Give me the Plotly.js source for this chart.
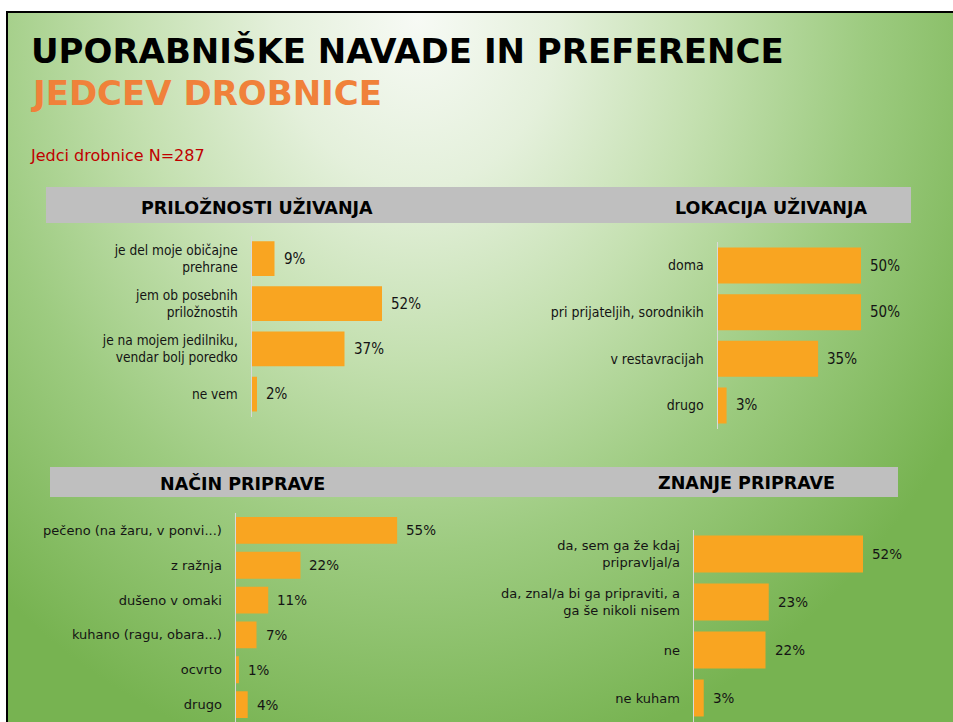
<!DOCTYPE html>
<html>
<head>
<meta charset="utf-8">
<script src="https://cdn.plot.ly/plotly-3.0.1.min.js"></script>
<style>
  html, body { margin:0; padding:0; background:#ffffff; overflow:hidden; }
  #wrap { position:relative; width:953px; height:722px; overflow:hidden; background:#ffffff; }
  #bg { position:absolute; left:6px; top:11px; width:1010px; height:760px; box-sizing:border-box;
        border-top:2.5px solid #000; border-left:2.4px solid #000;
        background: radial-gradient(ellipse 640px 760px at 410px 5px, #F7FAF5 0%, #E4F0DB 22%, #C4E0B0 45%, #9DCB80 70%, #77B351 100%); }
  #chart { position:absolute; left:0; top:0; width:953px; height:722px; }
</style>
</head>
<body>
<div id="wrap"><div id="bg"></div><div id="chart"></div></div>
<script>
// ---------- data ----------
const titleLine1 = 'UPORABNIŠKE NAVADE IN PREFERENCE';
const titleLine2 = 'JEDCEV DROBNICE';
const subtitle = 'Jedci drobnice N=287';

const p1Title = 'PRILOŽNOSTI UŽIVANJA';
const p1Cats = ['je del moje običajne<br>prehrane', 'jem ob posebnih<br>priložnostih', 'je na mojem jedilniku,<br>vendar bolj poredko', 'ne vem'];
const p1Vals = [9, 52, 37, 2];

const p2Title = 'LOKACIJA UŽIVANJA';
const p2Cats = ['doma', 'pri prijateljih, sorodnikih', 'v restavracijah', 'drugo'];
const p2Vals = [50, 50, 35, 3];

const p3Title = 'NAČIN PRIPRAVE';
const p3Cats = ['pečeno (na žaru, v ponvi...)', 'z ražnja', 'dušeno v omaki', 'kuhano (ragu, obara...)', 'ocvrto', 'drugo'];
const p3Vals = [55, 22, 11, 7, 1, 4];

const p4Title = 'ZNANJE PRIPRAVE';
const p4Cats = ['da, sem ga že kdaj<br>pripravljal/a', 'da, znal/a bi ga pripraviti, a<br>ga še nikoli nisem', 'ne', 'ne kuham'];
const p4Vals = [52, 23, 22, 3];

// ---------- layout helpers ----------
const W = 953, H = 722;
const px = (a, b) => [a / W, b / W];
const py = (top, bottom) => [Math.max(0, 1 - bottom / H), Math.min(1, 1 - top / H)];
const BAR = '#F9A521';
const narrow = 'DejaVu Sans Condensed, Liberation Sans Narrow, sans-serif';
const dejavu = 'DejaVu Sans, Verdana, sans-serif';

const panels = [
  {cats: p1Cats, vals: p1Vals, xd: px(252, 252 + 60 * 2.5), yd: py(236, 416.6), font: narrow, fs: 13.6, vfs: 15, ax: ''},
  {cats: p2Cats, vals: p2Vals, xd: px(718, 718 + 60 * 2.86), yd: py(242.2, 428.8), font: narrow, fs: 14, vfs: 15, ax: '2'},
  {cats: p3Cats, vals: p3Vals, xd: px(236, 236 + 60 * 2.93), yd: py(513, 722), font: dejavu, fs: 13, vfs: 13.5, ax: '3'},
  {cats: p4Cats, vals: p4Vals, xd: px(694, 694 + 60 * 3.25), yd: py(530, 722), font: dejavu, fs: 13, vfs: 13.5, ax: '4'}
];

const traces = [];
const layout = {
  width: W, height: H,
  margin: {l: 0, r: 0, t: 0, b: 0},
  paper_bgcolor: 'rgba(0,0,0,0)',
  plot_bgcolor: 'rgba(0,0,0,0)',
  showlegend: false,
  bargap: 0.23,
  annotations: [],
  shapes: []
};

panels.forEach(p => {
  traces.push({
    type: 'bar', orientation: 'h',
    x: p.vals, y: p.cats,
    xaxis: 'x' + p.ax, yaxis: 'y' + p.ax,
    marker: {color: BAR},
    hoverinfo: 'skip'
  });
  layout['xaxis' + p.ax] = {
    domain: p.xd, range: [0, 60], visible: false, fixedrange: true,
    anchor: 'y' + p.ax
  };
  layout['yaxis' + p.ax] = {
    domain: p.yd, type: 'category',
    range: [p.cats.length - 0.5, -0.5],
    anchor: 'x' + p.ax,
    showline: true, linecolor: '#D9D9D9', linewidth: 1.5,
    showgrid: false, zeroline: false, ticks: '',
    ticklabelstandoff: 10,
    tickfont: {family: p.font, size: p.fs, color: '#141414'},
    fixedrange: true
  };
  p.vals.forEach((v, i) => {
    layout.annotations.push({
      xref: 'x' + p.ax, yref: 'y' + p.ax,
      x: v, y: p.cats[i],
      text: v + '%', showarrow: false,
      xanchor: 'left', yanchor: 'middle', xshift: 7,
      font: {family: p.font, size: p.vfs, color: '#141414'}
    });
  });
});

// header bars
layout.shapes.push(
  {type: 'rect', xref: 'paper', yref: 'paper', x0: 46 / W, x1: 911 / W, y0: 1 - 223 / H, y1: 1 - 187 / H, fillcolor: '#BFBFBF', line: {width: 0}, layer: 'below'},
  {type: 'rect', xref: 'paper', yref: 'paper', x0: 50 / W, x1: 898 / W, y0: 1 - 497 / H, y1: 1 - 467 / H, fillcolor: '#BFBFBF', line: {width: 0}, layer: 'below'}
);

const headFont = {family: 'DejaVu Sans, Verdana, sans-serif', size: 17.5, color: '#000000'};
[[p1Title, 257, 207], [p2Title, 771, 207], [p3Title, 242, 483], [p4Title, 746.5, 483]].forEach(h => {
  layout.annotations.push({xref: 'paper', yref: 'paper', x: h[1] / W, y: 1 - h[2] / H,
    text: '<b>' + h[0] + '</b>', showarrow: false, xanchor: 'center', yanchor: 'middle', font: headFont});
});

layout.annotations.push(
  {xref: 'paper', yref: 'paper', x: 29 / W, y: 1 - 51 / H, text: '<b>' + titleLine1 + '</b>', showarrow: false,
   xanchor: 'left', yanchor: 'middle', font: {family: 'DejaVu Sans, Verdana, sans-serif', size: 34, color: '#000000'}},
  {xref: 'paper', yref: 'paper', x: 29 / W, y: 1 - 93 / H, text: '<b>' + titleLine2 + '</b>', showarrow: false,
   xanchor: 'left', yanchor: 'middle', font: {family: 'DejaVu Sans, Verdana, sans-serif', size: 34, color: '#F0813A'}},
  {xref: 'paper', yref: 'paper', x: 28 / W, y: 1 - 156 / H, text: subtitle, showarrow: false,
   xanchor: 'left', yanchor: 'middle', font: {family: 'DejaVu Sans, Verdana, sans-serif', size: 16, color: '#C00000'}}
);

Plotly.newPlot('chart', traces, layout, {displayModeBar: false, staticPlot: true});
</script>
</body>
</html>
